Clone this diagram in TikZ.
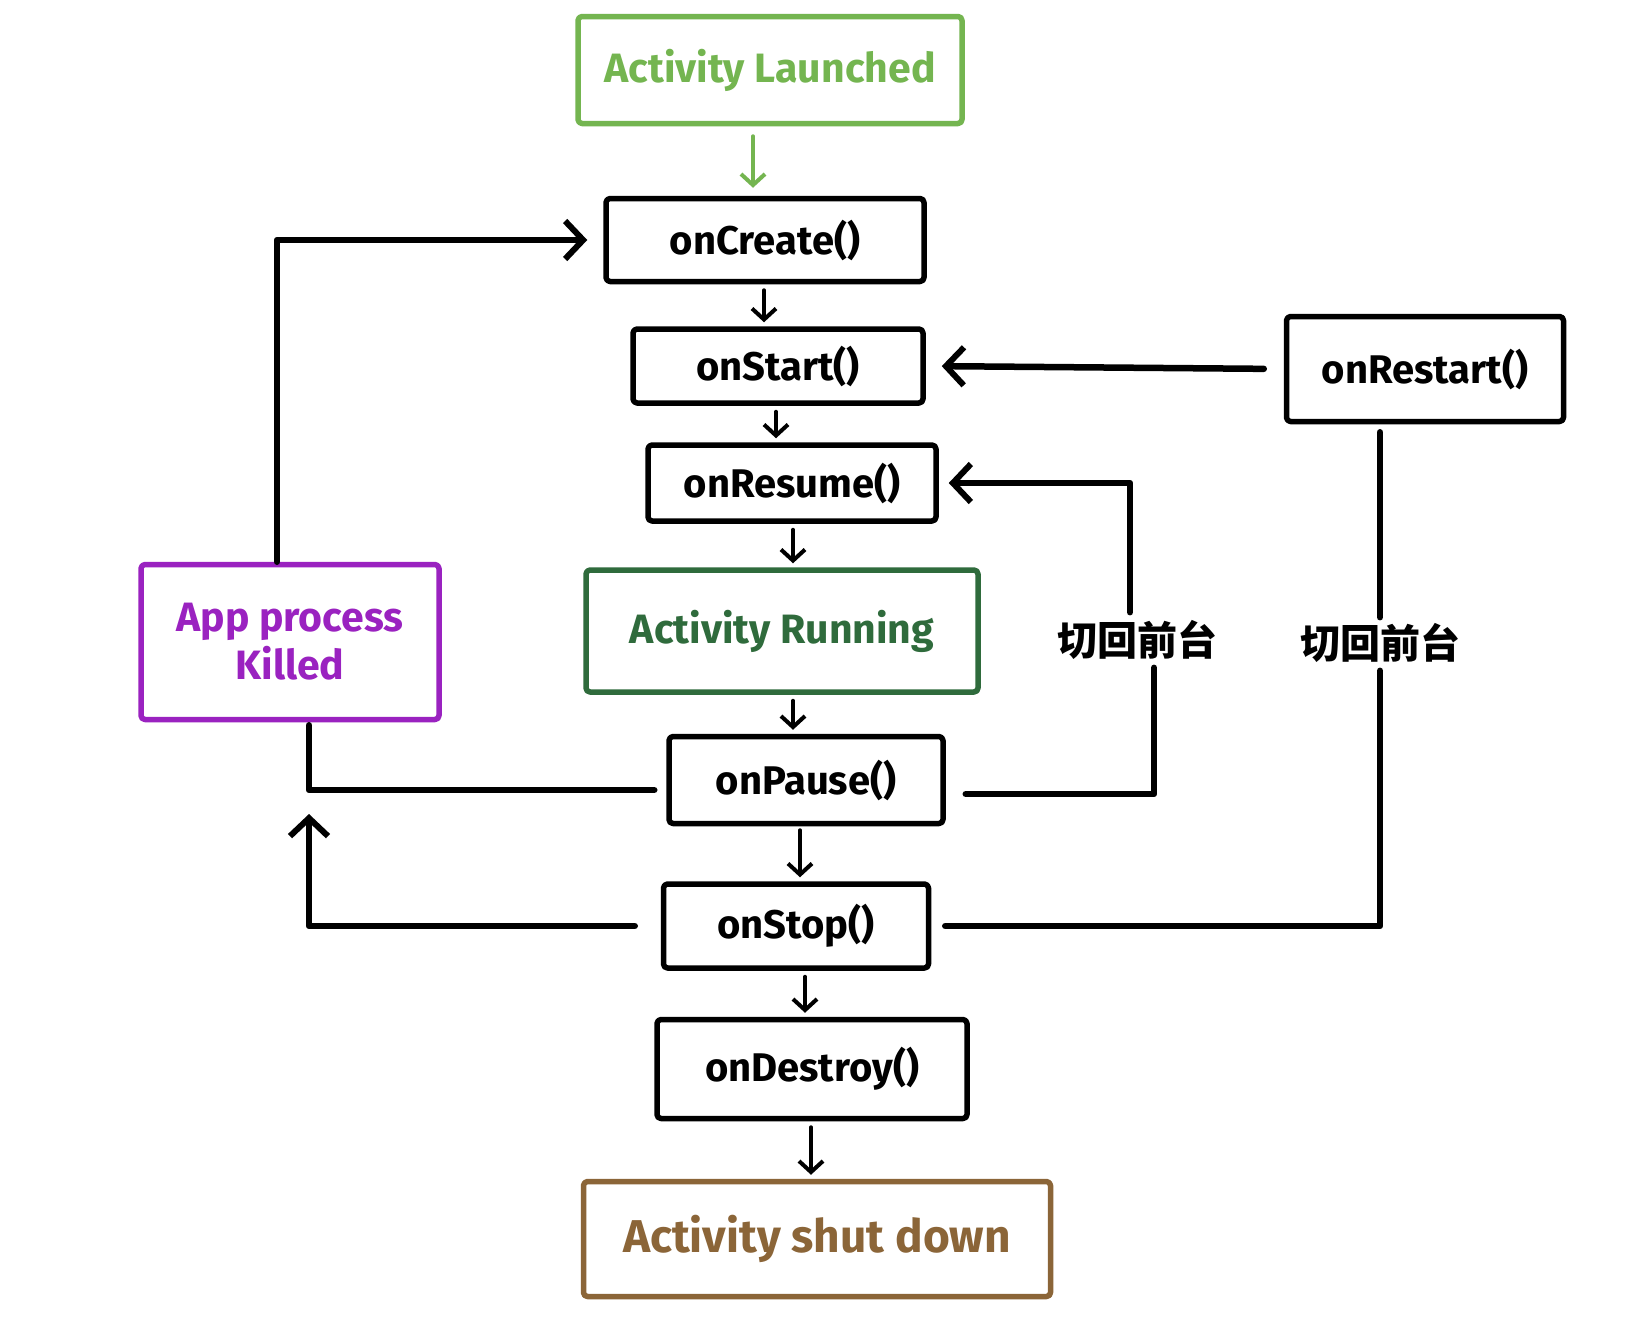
\documentclass[tikz,border=0pt]{standalone}
\usepackage{fontspec}
\setmainfont{Fira Sans}
\newfontfamily\cjk{Noto Sans CJK SC}
\usetikzlibrary{arrows.meta,calc}
\definecolor{launchgreen}{HTML}{74B550}
\definecolor{rungreen}{HTML}{2F6B3C}
\definecolor{shutbrown}{HTML}{8B6538}
\definecolor{killpurple}{HTML}{9A22C0}
\tikzset{
  box/.style={draw=black, line width=5.5pt, rounded corners=4pt, line join=round,
    inner sep=0pt, font=\fontsize{40}{46}\selectfont\bfseries, text=black},
  statebox/.style={box, font=\fontsize{41}{48}\selectfont\bfseries},
  conn/.style={draw=black, line width=6.5pt, line cap=round, line join=round},
  harrow/.style={conn, -{Straight Barb[length=18pt,width=38pt,line width=6pt]}},
  varrow/.style={draw=black, line width=4pt, line cap=round,
    -{Straight Barb[length=11pt,width=24pt,line width=4pt]}},
  zh/.style={font=\cjk\fontsize{40}{44}\selectfont\bfseries, inner sep=2pt}
}
\begin{document}
\begin{tikzpicture}[x=1pt,y=-1pt]
\useasboundingbox[fill=white] (0,0) rectangle (1640,1323);

% states
\node[statebox, draw=launchgreen, text=launchgreen, minimum width=384pt, minimum height=107pt] (launched) at (770,70) {Activity Launched};
\node[box, minimum width=318pt, minimum height=83pt] (create) at (765,240) {onCreate()};
\node[box, minimum width=290pt, minimum height=74pt] (start) at (778,366) {onStart()};
\node[box, minimum width=288pt, minimum height=76pt] (resume) at (792,483) {onResume()};
\node[statebox, draw=rungreen, text=rungreen, minimum width=392pt, minimum height=122pt] (running) at (782,631) {Activity Running};
\node[box, minimum width=274pt, minimum height=87pt] (pause) at (806,780) {onPause()};
\node[box, minimum width=265pt, minimum height=84pt] (stop) at (796,926) {onStop()};
\node[box, minimum width=310pt, minimum height=99pt] (destroy) at (812,1069) {onDestroy()};
\node[statebox, draw=shutbrown, text=shutbrown, minimum width=467pt, minimum height=115pt, font=\fontsize{46}{52}\selectfont\bfseries] (shut) at (817,1239) {Activity shut down};
\node[statebox, draw=killpurple, text=killpurple, minimum width=298pt, minimum height=155pt, align=center] (killed) at (290,642) {App process\\Killed};
\node[box, minimum width=277pt, minimum height=105pt] (restart) at (1425,369) {onRestart()};

\node[zh] (lab1) at (1137,640) {切回前台};
\node[zh] (lab2) at (1380,643) {切回前台};
\coordinate (ktip) at (309,814);

% main flow
\draw[varrow, draw=launchgreen, shorten <=10pt, shorten >=8pt] ([xshift=-17pt]launched.south) -- ([xshift=-17pt]launched.south |- create.north);
\draw[varrow, shorten <=6pt, shorten >=4pt] ([xshift=-1pt]create.south) -- ([xshift=-1pt]create.south |- start.north);
\draw[varrow, shorten <=6pt, shorten >=4pt] ([xshift=-2pt]start.south) -- ([xshift=-2pt]start.south |- resume.north);
\draw[varrow, shorten <=6pt, shorten >=4pt] ([xshift=1pt]resume.south) -- ([xshift=1pt]resume.south |- running.north);
\draw[varrow, shorten <=6pt, shorten >=4pt] ([xshift=11pt]running.south) -- ([xshift=11pt]running.south |- pause.north);
\draw[varrow, shorten <=4pt, shorten >=4pt] ([xshift=-6pt]pause.south) -- ([xshift=-6pt]pause.south |- stop.north);
\draw[varrow, shorten <=6pt, shorten >=4pt] ([xshift=9pt]stop.south) -- ([xshift=9pt]stop.south |- destroy.north);
\draw[varrow, shorten <=6pt, shorten >=4pt] ([xshift=-1pt]destroy.south) -- ([xshift=-1pt]destroy.south |- shut.north);

% killed -> onCreate
\draw[harrow, shorten >=16pt] ([xshift=-13pt]killed.north) |- (create.west);
% onPause -> killed
\draw[conn, shorten <=12pt, shorten >=3pt] ([yshift=-10pt]pause.west) -| ([xshift=19pt]killed.south);
% onStop -> killed
\draw[harrow, shorten <=26pt] (stop.west) -| (ktip);

% onRestart -> onStart
\draw[harrow, shorten <=20pt, shorten >=16pt] (restart.west) -- (start.east);
% onStop -> restart (via label)
\draw[conn, shorten <=8pt, shorten >=4pt] (lab2.north |- restart.south) -- (lab2.north);
\draw[conn, shorten <=6pt, shorten >=14pt] (lab2.south) |- (stop.east);
% onPause -> onResume (via label)
\draw[conn, shorten <=20pt, shorten >=6pt] ([yshift=-14pt]pause.east) -| ([xshift=17pt]lab1.south);
\draw[harrow, shorten <=6pt, shorten >=10pt] ([xshift=-7pt]lab1.north) |- (resume.east);
\end{tikzpicture}
\end{document}
